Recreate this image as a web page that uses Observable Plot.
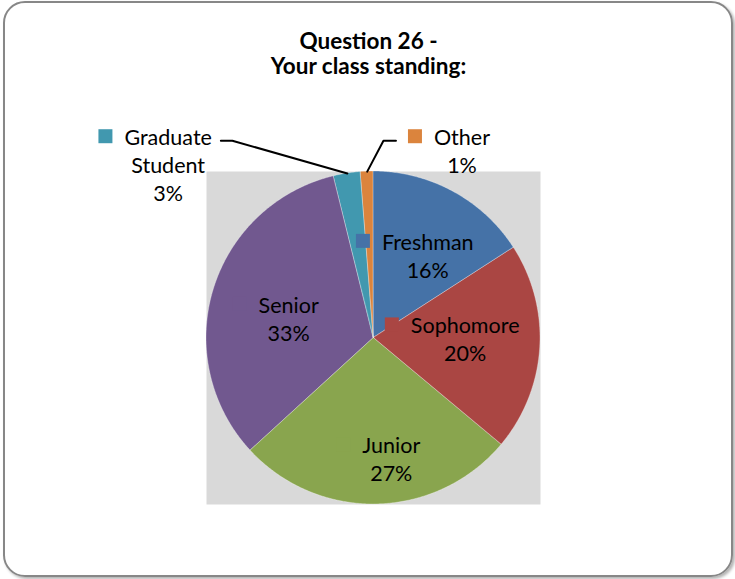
<!DOCTYPE html>
<html><head><meta charset="utf-8">
<script src="https://cdn.jsdelivr.net/npm/d3@7"></script>
<script src="https://cdn.jsdelivr.net/npm/@observablehq/plot@0.6"></script>
<style>
body{margin:0;background:#fff;}
#wrap{position:relative;width:735px;height:579px;overflow:hidden;background:#fff;}
#wrap svg{position:absolute;left:0;top:0;}
#border{position:absolute;left:3px;top:1px;width:730px;height:576px;box-sizing:border-box;border:2px solid #878787;border-radius:22px;box-shadow:2px 2px 3px rgba(0,0,0,.3);pointer-events:none;}
</style></head><body><div id="wrap"><div id="border"></div></div>
<script>
// ---- data ----
const categories = ["Freshman", "Sophomore", "Junior", "Senior", "Graduate Student", "Other"];
const values = [15.9, 20.2, 27.1, 33.0, 2.6, 1.2];
const colors = ["#4572A7", "#AA4643", "#89A54E", "#71588F", "#4198AF", "#DB843D"];
const titleLines = ["Question 26 -", "Your class standing:"];

// ---- layout (label placement relative to each slice, in radius units / degrees) ----
const labelRadius = [0.557, 0.471, 0.724, 0.598, 1.673, 1.215];
const labelTurn = [-2.3, -3.3, -1, -5.3, -42.4, 24];
const FONT = "Lato";
const FS = 21.5, LH = 28, SQ = 14, GAP = 12;
const W = 735, H = 579;
const M = {left: 206, right: 195, top: 171, bottom: 75};
const pxX = (W - M.left - M.right) / 2, pxY = (H - M.top - M.bottom) / 2;

const data = categories.map((c, i) => ({cat: c, value: values[i]}));
const total = d3.sum(values);
const arcs = d3.pie().sort(null).value(d => d.value)(data);

// wedge outlines
const wedge = [];
for (const a of arcs) {
  const n = Math.max(2, Math.ceil((a.endAngle - a.startAngle) / (Math.PI / 360)));
  for (let k = 0; k <= n; k++) {
    const t = a.startAngle + (a.endAngle - a.startAngle) * k / n;
    wedge.push({cat: a.data.cat, x1: Math.sin(t), y1: Math.cos(t), x2: 0, y2: 0});
  }
}

const ctx = document.createElement("canvas").getContext("2d");
ctx.font = `${FS}px ${FONT}`;

const labels = [], squares = [], leaders = [];
arcs.forEach((a, i) => {
  const name = a.data.cat;
  const pct = Math.round(a.data.value / total * 100) + "%";
  const lines = name.split(" ").concat([pct]);
  const maxW = d3.max(lines, l => ctx.measureText(l).width);
  const w1 = ctx.measureText(lines[0]).width;
  const mid = (a.startAngle + a.endAngle) / 2;
  const ang = mid + labelTurn[i] * Math.PI / 180;
  const ax = labelRadius[i] * Math.sin(ang), ay = labelRadius[i] * Math.cos(ang);
  const tx = ax + (SQ + GAP) / 2 / pxX;            // text centre
  const line1y = ay + ((lines.length - 1) / 2 * LH) / pxY; // line-1 centre
  labels.push({cat: name, x: tx, y: ay, text: lines.join("\n")});
  squares.push({cat: name, x: tx - (maxW / 2 + GAP + SQ / 2) / pxX, y: line1y});
  if (labelRadius[i] > 1) {
    const ex = Math.sin(mid), ey = Math.cos(mid);
    const left = tx < ex;
    const endX = left ? tx + (w1 / 2 + 9) / pxX : tx - (maxW / 2 + GAP + SQ + 12) / pxX;
    const elbowX = left ? endX + 11.5 / pxX : endX - 12.5 / pxX;
    const ly = line1y - 4.5 / pxY;
    leaders.push({cat: name, x: endX, y: ly}, {cat: name, x: elbowX, y: ly}, {cat: name, x: ex, y: ey});
  }
});

const plot = Plot.plot({
  width: W, height: H,
  marginLeft: M.left, marginRight: M.right, marginTop: M.top, marginBottom: M.bottom,
  x: {domain: [-1, 1], axis: null},
  y: {domain: [-1, 1], axis: null},
  color: {domain: categories, range: colors},
  style: {fontFamily: FONT, background: "transparent"},
  marks: [
    Plot.frame({fill: "#D9D9D9", stroke: null}),
    Plot.area(wedge, {x1: "x1", y1: "y1", x2: "x2", y2: "y2", z: "cat", fill: "cat", stroke: "#ffffff", strokeOpacity: 0.45, strokeWidth: 0.7}),
    Plot.line(leaders, {x: "x", y: "y", z: "cat", stroke: "#000", strokeWidth: 2}),
    Plot.dot(squares, {x: "x", y: "y", fill: "cat", symbol: "square", r: SQ / Math.sqrt(Math.PI), stroke: null}),
    Plot.text(labels, {x: "x", y: "y", text: "text", dy: 0, fontSize: FS, lineHeight: LH / FS, lineAnchor: "middle", textAnchor: "middle", fill: "#000"}),
    Plot.text([titleLines.join("\n")], {frameAnchor: "top", text: d => d, dx: -5, dy: -140, lineAnchor: "top", fontSize: 22.5, fontWeight: "bold", lineHeight: 25 / 22.5, fill: "#000"})
  ]
});
const wrap = document.getElementById("wrap");
wrap.insertBefore(plot, document.getElementById("border"));
</script></body></html>
